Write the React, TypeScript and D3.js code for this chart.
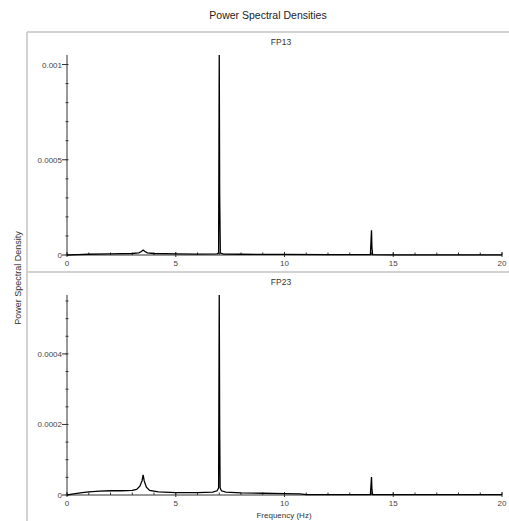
import * as d3 from 'd3'
import { useRef, useEffect } from 'react'

// spectra (frequency in Hz, density)
const fp13Freq = [0, 0.5, 1, 2, 3, 3.3, 3.42, 3.5, 3.58, 3.7, 4, 5, 6, 6.9, 6.97, 7.0, 7.02, 7.05, 7.2, 8, 10, 12, 13.95, 14.0, 14.02, 14.05, 15, 20]
const fp13Psd = [0, 0.000002, 0.000004, 0.000006, 0.000008, 0.000011, 0.000018, 0.000026, 0.000018, 0.000011, 0.000008, 0.000006, 0.000005, 0.000006, 0.00001, 0.00105, 0.00032, 0.00001, 0.000005, 0.000004, 0.000003, 0.000002, 0.000002, 0.00013, 0.00004, 0.000002, 0.000001, 0.000001]

const fp23Freq = [0, 0.3, 0.7, 1, 1.5, 2, 2.5, 3, 3.2, 3.35, 3.45, 3.5, 3.55, 3.65, 3.8, 4.2, 5, 6, 6.7, 6.9, 6.97, 7.0, 7.02, 7.04, 7.1, 7.3, 8, 9, 10, 10.7, 11, 13.95, 14.0, 14.02, 14.05, 20]
const fp23Psd = [0, 0.000003, 0.000007, 0.000009, 0.000011, 0.000012, 0.000012, 0.000013, 0.000016, 0.000025, 0.00004, 0.000057, 0.00004, 0.000022, 0.000013, 0.000009, 0.000007, 0.000007, 0.000008, 0.000012, 0.00002, 0.000567, 0.00019, 0.00002, 0.000012, 0.000008, 0.000006, 0.000005, 0.000004, 0.000003, 0.000001, 0.000001, 0.000051, 0.000015, 0.000001, 0.000001]

const panelNames = ['FP13', 'FP23']
const yMax = [0.00105, 0.000567]
const yMajor = [[0, 0.0005, 0.001], [0, 0.0002, 0.0004]]
const yMinorStep = [0.0001, 0.00005]
const yMinorTop = [0.001, 0.00055]
const xMajor = [0, 5, 10, 15, 20]

const App = () => {
  const svgRef = useRef(null)

  const width = 509
  const height = 521
  const plotLeft = 67
  const plotRight = 502

  useEffect(() => {
    const svg = d3.select(svgRef.current)
    svg.selectAll('*').remove()

    const font = 'Liberation Sans, Arial, sans-serif'

    // frame
    const frame = svg.append('g').attr('stroke', '#d2d2d2').attr('stroke-width', 2)
    frame.append('line').attr('x1', 27).attr('x2', 509).attr('y1', 32).attr('y2', 32)
    frame.append('line').attr('x1', 27).attr('x2', 27).attr('y1', 32).attr('y2', 521)
    frame.append('line').attr('x1', 27).attr('x2', 509).attr('y1', 272).attr('y2', 272)

    svg.append('text')
      .attr('x', 268).attr('y', 19)
      .attr('text-anchor', 'middle')
      .attr('font-family', font).attr('font-size', 10.5)
      .attr('fill', '#222')
      .text('Power Spectral Densities')

    svg.append('text')
      .attr('transform', 'translate(21, 278) rotate(-90)')
      .attr('text-anchor', 'middle')
      .attr('font-family', font).attr('font-size', 9)
      .attr('fill', '#333')
      .text('Power Spectral Density')

    const xScale = d3.scaleLinear().domain([0, 20]).range([plotLeft, plotRight])

    const panels = [
      { freq: fp13Freq, psd: fp13Psd, bottom: 255, titleY: 45 },
      { freq: fp23Freq, psd: fp23Psd, bottom: 495, titleY: 285 },
    ]

    panels.forEach((p, i) => {
      const top = p.bottom - 200
      const yScale = d3.scaleLinear().domain([0, yMax[i]]).range([p.bottom, top])
      const g = svg.append('g')

      g.append('text')
        .attr('x', 281).attr('y', p.titleY)
        .attr('text-anchor', 'middle')
        .attr('font-family', font).attr('font-size', 8.5)
        .attr('fill', '#333')
        .text(panelNames[i])

      // axes lines
      g.append('line')
        .attr('x1', plotLeft).attr('x2', plotLeft)
        .attr('y1', p.bottom).attr('y2', top)
        .attr('stroke', '#333').attr('stroke-width', 1)
      g.append('line')
        .attr('x1', plotLeft).attr('x2', plotRight)
        .attr('y1', p.bottom).attr('y2', p.bottom)
        .attr('stroke', '#333').attr('stroke-width', 1)

      // y minor ticks
      const minor = d3.range(0, yMinorTop[i] + yMinorStep[i] / 2, yMinorStep[i])
      g.selectAll('.ymin').data(minor).enter().append('line')
        .attr('x1', plotLeft - 1.5).attr('x2', plotLeft + 1.5)
        .attr('y1', d => yScale(d)).attr('y2', d => yScale(d))
        .attr('stroke', '#333')

      // y major ticks
      g.selectAll('.ymaj').data(yMajor[i]).enter().append('line')
        .attr('x1', plotLeft - 5).attr('x2', plotLeft)
        .attr('y1', d => yScale(d)).attr('y2', d => yScale(d))
        .attr('stroke', '#333')
      g.selectAll('.ylab').data(yMajor[i]).enter().append('text')
        .attr('x', plotLeft - 5).attr('y', d => yScale(d) + 3)
        .attr('text-anchor', 'end')
        .attr('font-family', font).attr('font-size', 8)
        .attr('fill', '#444')
        .text(d => String(d))

      // x minor ticks
      g.selectAll('.xmin').data(d3.range(0, 21, 1)).enter().append('line')
        .attr('x1', d => xScale(d)).attr('x2', d => xScale(d))
        .attr('y1', p.bottom - 2.5).attr('y2', p.bottom)
        .attr('stroke', '#333')
      g.selectAll('.xmaj').data(xMajor).enter().append('line')
        .attr('x1', d => xScale(d)).attr('x2', d => xScale(d))
        .attr('y1', p.bottom - 3).attr('y2', p.bottom + 2)
        .attr('stroke', '#333')
      g.selectAll('.xlab').data(xMajor).enter().append('text')
        .attr('x', d => xScale(d)).attr('y', p.bottom + 11)
        .attr('text-anchor', 'middle')
        .attr('font-family', font).attr('font-size', 8)
        .attr('fill', '#444')
        .text(d => String(d))

      // spectrum
      const pts = p.freq.map((f, k) => [f, p.psd[k]])
      const line = d3.line().x(d => xScale(d[0])).y(d => yScale(d[1]))
      g.append('path')
        .attr('d', line(pts))
        .attr('fill', 'none')
        .attr('stroke', '#000')
        .attr('stroke-width', 1.3)
    })

    svg.append('text')
      .attr('x', 284).attr('y', 518)
      .attr('text-anchor', 'middle')
      .attr('font-family', font).attr('font-size', 8)
      .attr('fill', '#333')
      .text('Frequency (Hz)')
  }, [])

  return (
    <svg
      ref={svgRef}
      width={width}
      height={height}
      style={{ position: 'absolute', left: 0, top: 0, background: '#fff' }}
    ></svg>
  )
}

export default App
